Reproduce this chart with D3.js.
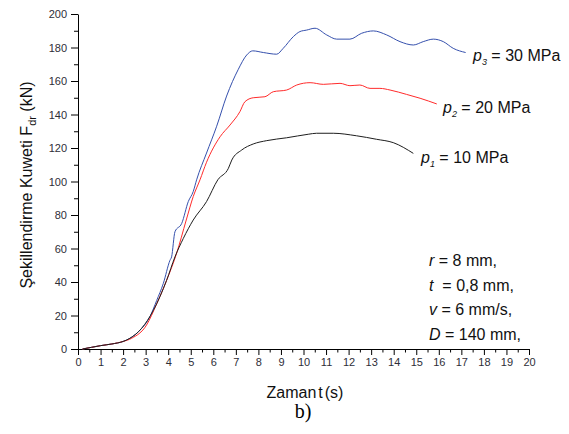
<!DOCTYPE html>
<html>
<head>
<meta charset="utf-8">
<script src="https://cdn.jsdelivr.net/npm/d3@7"></script>
<style>
  html, body { margin: 0; padding: 0; background: #fff; }
  svg { display: block; }
</style>
</head>
<body>
<svg id="chart" width="569" height="434"></svg>
<script>
// Forming force vs. time for three pressures
const p3Time  = [0.2,0.6,1.0,1.5,2.0,2.38,2.75,3.19,3.49,3.78,4.08,4.15,4.3,4.6,4.89,5.11,5.26,5.7,6.15,6.59,7.11,7.48,7.75,8.22,8.81,9.1,9.55,9.84,10.14,10.51,11.03,11.47,12.06,12.58,13.1,13.69,14.28,14.87,15.31,15.76,16.2,16.64,17.19];
const p3Force = [0,1,2,3,4.5,7,11.3,19.3,29,39,53,55,70,75,88,94,101,117,133,151,167,175.5,178,177,176,179.5,186.5,189.5,190.4,191.5,187.5,185,185,188.5,189.9,187.5,183.5,181.5,183.5,185,183.5,179.5,177];

const p2Time  = [0.2,0.6,1.0,1.5,2.0,2.38,3.04,3.49,3.93,4.37,4.8,5.11,5.41,5.7,6.3,6.74,7.18,7.4,7.77,8.29,8.66,9.25,9.7,10.29,10.88,11.62,12.06,12.5,12.95,13.39,13.84,14.57,15.17,15.91];
const p2Force = [0,1,2,3,4.5,6.4,14.3,27,41,57,77,91,101,111.5,126.7,133.7,141.7,147.6,150,150.6,153.6,154.6,157.6,159,158,158.6,157.2,157.6,155.6,155.6,154.6,152,149.7,146.3];

const p1Time  = [0.2,0.6,1.0,1.5,2.0,2.3,2.82,3.34,3.93,4.3,4.67,5.11,5.7,6.2,6.67,6.82,7.26,7.77,8.37,9.25,10.21,10.58,11.32,12.35,13.24,13.98,14.87];
const p1Force = [0,1,2,3,4.5,6.4,12.3,23,41,55,66,77,88,101,107.9,112.8,118.8,122.4,124.4,126.1,128.2,128.8,128.8,127.3,125.2,123.2,116.8];

const xTicks = d3.range(0, 21, 1);
const yTicks = d3.range(0, 201, 20);

const seriesSubs = ["3", "2", "1"];
const seriesLabels = ["= 30 MPa", "= 20 MPa", "= 10 MPa"];
const paramNames = ["r", "t", "v", "D"];
const paramTexts = [" = 8 mm,", "  = 0,8 mm,", " = 6 mm/s,", " = 140 mm,"];

const svg = d3.select("#chart");
const plotLeft = 78, plotRight = 529, plotTop = 14, plotBottom = 349;

const x = d3.scaleLinear().domain([0, 20]).range([plotLeft, plotRight]);
const y = d3.scaleLinear().domain([0, 200]).range([plotBottom, plotTop]);

const font = "'Liberation Sans', Arial, sans-serif";
const tickColor = "#2e2e38";

// minor ticks
svg.append("g").attr("transform", `translate(0,${plotBottom})`)
  .call(d3.axisBottom(x).tickValues(d3.range(0.5, 20, 1)).tickSize(3.5).tickFormat("").tickSizeOuter(0))
  .call(g => g.select(".domain").remove());
svg.append("g").attr("transform", `translate(${plotLeft},0)`)
  .call(d3.axisLeft(y).tickValues(d3.range(10, 200, 20)).tickSize(4).tickFormat("").tickSizeOuter(0))
  .call(g => g.select(".domain").remove());

// major axes
const xAxis = svg.append("g").attr("transform", `translate(0,${plotBottom})`)
  .call(d3.axisBottom(x).tickValues(xTicks).tickSize(6).tickPadding(3).tickSizeOuter(0));
const yAxis = svg.append("g").attr("transform", `translate(${plotLeft},0)`)
  .call(d3.axisLeft(y).tickValues(yTicks).tickSize(7).tickPadding(4).tickSizeOuter(0));

[xAxis, yAxis].forEach(g => {
  g.selectAll("text").attr("font-family", font).attr("font-size", 11).attr("fill", tickColor);
  g.select(".domain").attr("stroke", "#000");
});
svg.selectAll("g line").attr("stroke", "#000");

// curves
const line = d3.line().x(d => x(d[0])).y(d => y(d[1])).curve(d3.curveMonotoneX);
const curves = [
  { t: p3Time, f: p3Force, color: "#3550ad" },
  { t: p2Time, f: p2Force, color: "#ff2b2b" },
  { t: p1Time, f: p1Force, color: "#1e1e1e" }
];
curves.forEach(c => {
  svg.append("path")
    .datum(c.t.map((v, i) => [v, c.f[i]]))
    .attr("d", line)
    .attr("fill", "none")
    .attr("stroke", c.color)
    .attr("stroke-width", 1);
});

// series labels near the curve ends
const labelPos = [[473, 61], [443, 113], [421, 163]];
labelPos.forEach((p, i) => {
  const t = svg.append("text").attr("x", p[0]).attr("y", p[1])
    .attr("font-family", font).attr("font-size", 16).attr("fill", "#111");
  t.append("tspan").attr("font-style", "italic").text("p");
  t.append("tspan").attr("font-style", "italic").attr("font-size", 9).attr("dy", 4).text(seriesSubs[i]);
  t.append("tspan").attr("dy", -4).text(" " + seriesLabels[i]);
});

// process parameters
const paramY = [266, 291, 315, 340];
paramNames.forEach((n, i) => {
  const t = svg.append("text").attr("x", 429).attr("y", paramY[i])
    .attr("font-family", font).attr("font-size", 16).attr("fill", "#111")
    .style("white-space", "pre");
  t.append("tspan").attr("font-style", "italic").text(n);
  t.append("tspan").text(paramTexts[i]);
});

// axis titles
const yt = svg.append("text")
  .attr("transform", "translate(32,185) rotate(-90)")
  .attr("text-anchor", "middle")
  .attr("font-family", font).attr("font-size", 16).attr("fill", "#111");
yt.append("tspan").text("Şekillendirme Kuweti F");
yt.append("tspan").attr("font-size", 11).attr("dy", 4).text("dr");
yt.append("tspan").attr("dy", -4).text(" (kN)");

svg.append("text").attr("x", 305).attr("y", 398).attr("text-anchor", "middle")
  .attr("font-family", font).attr("font-size", 16).attr("fill", "#111")
  .attr("word-spacing", -2.5)
  .text("Zaman t (s)");

svg.append("text").attr("x", 303).attr("y", 418).attr("text-anchor", "middle")
  .attr("font-family", "'Liberation Serif', 'Times New Roman', serif").attr("font-size", 20).attr("fill", "#000")
  .text("b)");
</script>
</body>
</html>
